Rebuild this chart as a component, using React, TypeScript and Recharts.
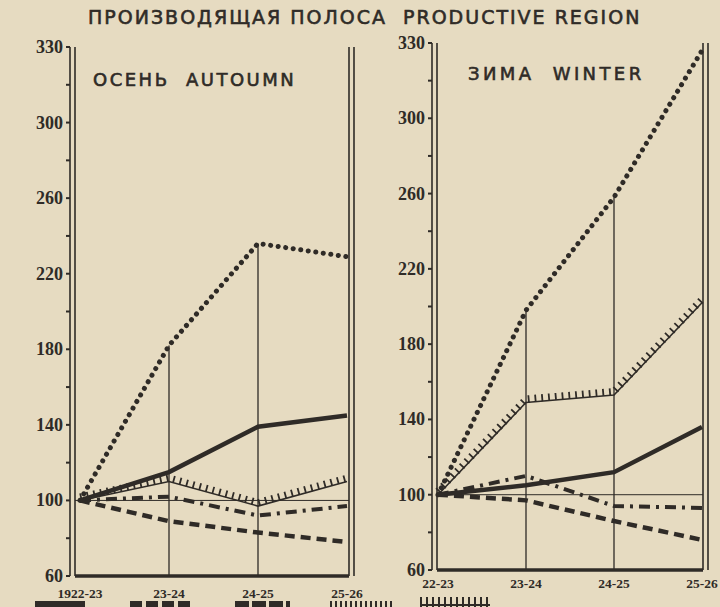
import {
  LineChart,
  Line,
  XAxis,
  YAxis,
  ReferenceLine,
} from "recharts";

const autumnYears = ["1922-23", "23-24", "24-25", "25-26"];
const winterYears = ["22-23", "23-24", "24-25", "25-26"];

// index values, 1922-23 = 100
const autumnDotted = [100, 182, 236, 229];
const autumnHatched = [100, 110, 97, 110];
const autumnSolid = [100, 115, 139, 145];
const autumnDashDot = [100, 102, 92, 97];
const autumnDashed = [100, 89, 83, 78];

const winterDotted = [100, 198, 258, 336];
const winterHatched = [100, 149, 153, 202];
const winterSolid = [100, 105, 112, 136];
const winterDashDot = [100, 110, 94, 93];
const winterDashed = [100, 97, 86, 76];

const yTicks = [60, 80, 100, 120, 140, 160, 180, 200, 220, 240, 260, 280, 300, 320, 340];
const yLabels: Record<number, string> = {
  60: "60", 100: "100", 140: "140", 180: "180", 220: "220", 260: "260", 300: "300", 340: "330",
};

const INK = "#2f2b27";
const PAPER = "#e6dbc1";

function build(years: string[], dotted: number[], hatched: number[], solid: number[], dashDot: number[], dashed: number[]) {
  return years.map((year, i) => ({
    year,
    dotted: dotted[i],
    hatched: hatched[i],
    solid: solid[i],
    dashDot: dashDot[i],
    dashed: dashed[i],
  }));
}

function YTick({ x, y, payload }: any) {
  const label = yLabels[payload.value];
  if (!label) return null;
  return (
    <text
      x={x}
      y={y}
      dy={6}
      textAnchor="end"
      fill={INK}
      fontSize={18}
      fontWeight="bold"
      fontFamily="Liberation Serif"
    >
      {label}
    </text>
  );
}

interface PanelProps {
  data: ReturnType<typeof build>;
  left: number;
  width: number;
  top: number;
  bottom: number;
  right: number;
  axisWidth: number;
  rightOuter: number;
  labelDy: number;
  padding: { left: number; right: number };
}

function Panel({ data, left, width, top, bottom, right, axisWidth, rightOuter, labelDy, padding }: PanelProps) {
  const thin = { stroke: INK, strokeWidth: 1.6 };
  return (
    <div style={{ position: "absolute", left, top: 0 }}>
      <LineChart
        width={width}
        height={607}
        data={data}
        margin={{ top, right, left: 0, bottom }}
      >
        <XAxis
          dataKey="year"
          padding={padding}
          height={26}
          tickLine={false}
          axisLine={{ stroke: INK, strokeWidth: 3.5 }}
          tick={{ fill: INK, fontSize: 13.5, fontFamily: "Liberation Serif", fontWeight: "bold", dy: labelDy }}
          interval={0}
        />
        {/* inner rule of the double frame line */}
        <YAxis yAxisId="a" domain={[60, 340]} width={5} tick={false} tickLine={false} axisLine={thin} />
        <YAxis
          yAxisId="b"
          domain={[60, 340]}
          ticks={yTicks}
          width={axisWidth}
          tickSize={4}
          tickMargin={3}
          tickLine={{ stroke: INK, strokeWidth: 2 }}
          axisLine={thin}
          tick={<YTick />}
        />
        <YAxis yAxisId="r" orientation="right" domain={[60, 340]} width={5} tick={false} tickLine={false} axisLine={thin} />
        <YAxis yAxisId="s" orientation="right" domain={[60, 340]} width={rightOuter} tick={false} tickLine={false} axisLine={thin} />
        <ReferenceLine yAxisId="b" y={100} stroke={INK} strokeWidth={1} />
        {[1, 2].map((i) => (
          <ReferenceLine
            key={i}
            yAxisId="b"
            segment={[
              { x: data[i].year, y: 60 },
              { x: data[i].year, y: data[i].dotted },
            ]}
            stroke={INK}
            strokeWidth={1.3}
          />
        ))}
        <Line yAxisId="b" dataKey="dashed" stroke={INK} strokeWidth={4.5} strokeDasharray="10 6" dot={false} isAnimationActive={false} />
        <Line yAxisId="b" dataKey="dashDot" stroke={INK} strokeWidth={4} strokeDasharray="11 6 3 6" dot={false} isAnimationActive={false} />
        <Line yAxisId="b" dataKey="hatched" stroke={INK} strokeWidth={1.6} dot={false} isAnimationActive={false} />
        <Line yAxisId="b" className="hatch" dataKey="hatched" stroke={INK} strokeWidth={7} strokeDasharray="1.8 5" dot={false} isAnimationActive={false} />
        <Line yAxisId="b" dataKey="solid" stroke={INK} strokeWidth={4.5} dot={false} isAnimationActive={false} />
        <Line yAxisId="b" dataKey="dotted" stroke={INK} strokeWidth={5} strokeDasharray="0.1 7.5" strokeLinecap="round" dot={false} isAnimationActive={false} />
      </LineChart>
    </div>
  );
}

const titleFont: React.CSSProperties = {
  position: "absolute",
  fontFamily: "DejaVu Sans",
  color: INK,
  whiteSpace: "nowrap",
  WebkitTextStroke: `0.6px ${INK}`,
};

export default function App() {
  const autumn = build(autumnYears, autumnDotted, autumnHatched, autumnSolid, autumnDashDot, autumnDashed);
  const winter = build(winterYears, winterDotted, winterHatched, winterSolid, winterDashDot, winterDashed);
  return (
    <div style={{ position: "absolute", left: 0, top: 0, width: 720, height: 607, background: PAPER, overflow: "hidden" }}>
      <style>{`.hatch .recharts-line-curve { transform: translateY(-3.5px); }`}</style>
      <div style={{ ...titleFont, left: 88, top: 6, fontSize: 19, letterSpacing: 2 }}>
        ПРОИЗВОДЯЩАЯ ПОЛОСА&nbsp;&nbsp;PRODUCTIVE REGION
      </div>
      <div style={{ ...titleFont, left: 93, top: 69, fontSize: 18, letterSpacing: 2.5 }}>ОСЕНЬ&nbsp;&nbsp;AUTOUMN</div>
      <div style={{ ...titleFont, left: 468, top: 63, fontSize: 18, letterSpacing: 3.4 }}>ЗИМА&nbsp;&nbsp;WINTER</div>
      <Panel data={winter} left={360} width={360} top={43} bottom={11} right={0} axisWidth={72} rightOuter={12} labelDy={0} padding={{ left: 1, right: 1 }} />
      <Panel data={autumn} left={0} width={380} top={47} bottom={5} right={20} axisWidth={70} rightOuter={6} labelDy={4} padding={{ left: 5, right: 2 }} />
      <div style={{ position: "absolute", left: 35, top: 601, width: 50, height: 8, background: INK }} />
      <div style={{ position: "absolute", left: 130, top: 601, width: 60, height: 8, background: `repeating-linear-gradient(90deg, ${INK} 0 12px, transparent 12px 16px)` }} />
      <div style={{ position: "absolute", left: 235, top: 601, width: 55, height: 8, background: `repeating-linear-gradient(90deg, ${INK} 0 14px, transparent 14px 17px)` }} />
      <div style={{ position: "absolute", left: 330, top: 601, width: 65, height: 8, background: `repeating-linear-gradient(90deg, ${INK} 0 2px, transparent 2px 5px)` }} />
      <div style={{ position: "absolute", left: 420, top: 597, width: 70, height: 10, background: `repeating-linear-gradient(90deg, ${INK} 0 2px, transparent 2px 6px)` }} />
      <div style={{ position: "absolute", left: 420, top: 604, width: 70, height: 2, background: INK }} />
    </div>
  );
}
